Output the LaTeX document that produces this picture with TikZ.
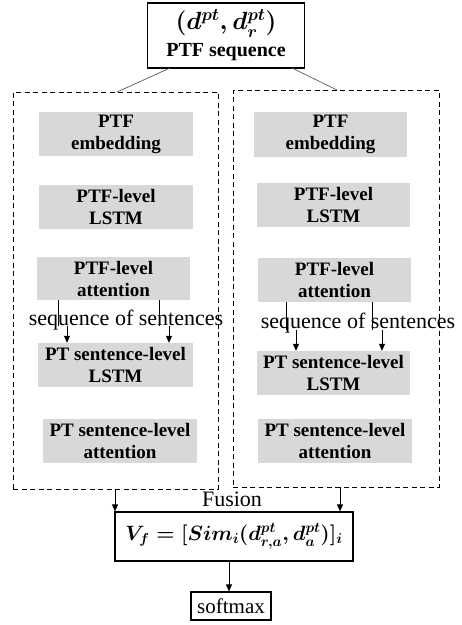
\documentclass[tikz,border=0pt]{standalone}
\usepackage{fontspec}
\setmainfont{Liberation Serif}
\usetikzlibrary{arrows.meta}
\definecolor{boxgray}{RGB}{216,216,216}
\begin{document}
\begin{tikzpicture}[x=1pt,y=-1pt,
  gbox/.style={fill=boxgray, draw=none, font=\bfseries\fontsize{19}{22}\selectfont, align=center, inner sep=0pt},
  dbox/.style={draw, dash pattern=on 5pt off 3.5pt, line width=1pt},
  sbox/.style={draw, line width=1.2pt, inner sep=0pt, align=center},
  conn/.style={draw=black!65, line width=0.7pt},
  arr/.style={-{Triangle[length=7pt,width=6pt]}, line width=0.8pt},
  seqtext/.style={font=\fontsize{22}{24}\selectfont, inner sep=0pt}]
\useasboundingbox (0,0) rectangle (462,625);

% top box
\node[sbox, minimum width=157pt, minimum height=65pt, font=\bfseries\fontsize{20}{27}\selectfont] (top) at (226,35.5)
  {{\fontsize{23}{27}\selectfont\boldmath$(d^{pt}, d_r^{pt})$}\\PTF sequence};

% dashed containers
\node[dbox, minimum width=205pt, minimum height=397pt, inner sep=0pt] (L) at (115.5,290.5) {};
\node[dbox, minimum width=206pt, minimum height=397pt, inner sep=0pt] (R) at (336,288.5) {};

\coordinate (tl) at (170,68);
\coordinate (tr) at (292,68);
\coordinate (Lt) at (117,92);
\coordinate (Rt) at (337,90);
\draw[conn] (tl) -- (Lt);
\draw[conn] (tr) -- (Rt);

% left column
\node[gbox, minimum width=154pt, minimum height=44pt] (le) at (116,134) {PTF\\embedding};
\node[gbox, minimum width=154pt, minimum height=44pt] (ll) at (116,207) {PTF-level\\LSTM};
\node[gbox, minimum width=153pt, minimum height=43pt] (la) at (113.5,278.5) {PTF-level\\attention};
\node[gbox, minimum width=155pt, minimum height=44pt] (ls) at (115.5,365) {PT sentence-level\\LSTM};
\node[gbox, minimum width=154pt, minimum height=44pt] (lt) at (120,441) {PT sentence-level\\attention};
\node[seqtext] (lseq) at (126,320) {sequence of\ sentences};

% right column
\node[gbox, minimum width=153pt, minimum height=45pt] (re) at (330.5,134.5) {PTF\\embedding};
\node[gbox, minimum width=153pt, minimum height=44pt] (rl) at (333.5,205) {PTF-level\\LSTM};
\node[gbox, minimum width=153pt, minimum height=44pt] (ra) at (334.5,280) {PTF-level\\attention};
\node[gbox, minimum width=153pt, minimum height=44pt] (rs) at (333.5,373) {PT sentence-level\\LSTM};
\node[gbox, minimum width=154pt, minimum height=44pt] (rt) at (335,441) {PT sentence-level\\attention};
\node[seqtext] (rseq) at (358,323) {sequence of\ sentences};

% sequence-of-sentences arrows (left)
\coordinate (la1) at (58,300);  \coordinate (la1m) at (58,326);  \coordinate (la1n) at (67,326);
\coordinate (la2) at (159,300); \coordinate (la2m) at (159,326); \coordinate (la2n) at (169,326);
\draw[line width=0.8pt] (la1) -- (la1m);
\draw[arr] (la1n) -- (la1n |- ls.north);
\draw[line width=0.8pt] (la2) -- (la2m);
\draw[arr] (la2n) -- (la2n |- ls.north);
% right
\coordinate (ra1) at (286,302); \coordinate (ra1m) at (286,330); \coordinate (ra1n) at (296,330);
\coordinate (ra2) at (372,302); \coordinate (ra2m) at (372,330); \coordinate (ra2n) at (382,330);
\draw[line width=0.8pt] (ra1) -- (ra1m);
\draw[arr] (ra1n) -- (ra1n |- rs.north);
\draw[line width=0.8pt] (ra2) -- (ra2m);
\draw[arr] (ra2n) -- (ra2n |- rs.north);

% fusion
\node[font=\fontsize{22}{24}\selectfont, inner sep=0pt] (fus) at (232,499) {Fusion};
\node[sbox, minimum width=238pt, minimum height=49pt, font=\fontsize{20.5}{24}\selectfont] (vf) at (234,536.5)
  {{\boldmath$V_f = [Sim_i(d^{pt}_{r,a}, d^{pt}_a)]_i$}};
\coordinate (Lb) at (115,489);
\coordinate (Rb) at (340,487);
\draw[arr] (Lb) -- (Lb |- vf.north);
\draw[arr] (Rb) -- (Rb |- vf.north);

\node[sbox, minimum width=80pt, minimum height=28pt, font=\fontsize{21}{24}\selectfont] (sm) at (231,606) {softmax};
\draw[arr] (vf.south -| 229,0) -- (sm.north -| 229,0);
\end{tikzpicture}
\end{document}
